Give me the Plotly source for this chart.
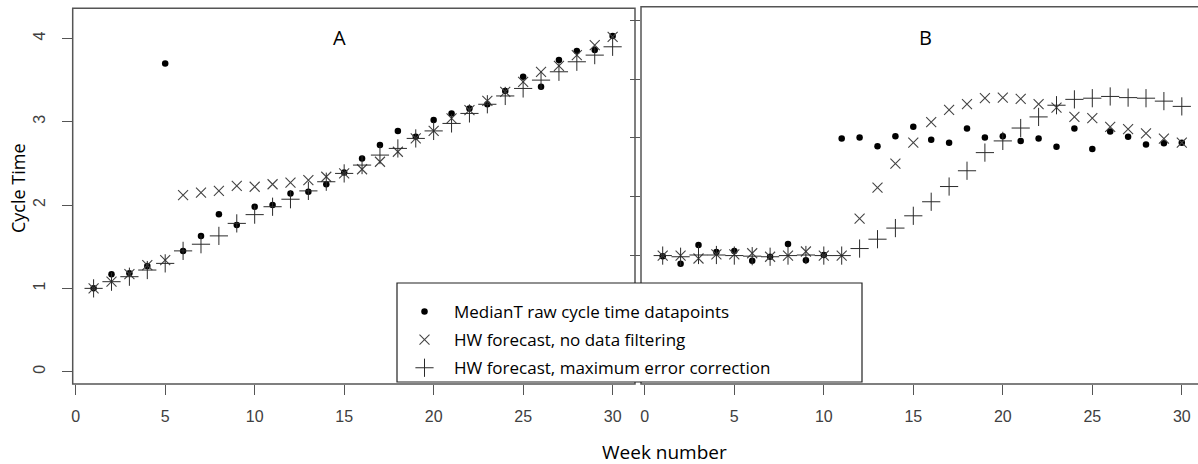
import plotly.graph_objects as go

W, H = 1198, 464

weeks = list(range(1, 31))

# Panel A values
a_median = [1.00, 1.17, 1.18, 1.27, 3.70, 1.45, 1.63, 1.89, 1.76, 1.98,
            2.00, 2.14, 2.16, 2.25, 2.39, 2.56, 2.72, 2.89, 2.82, 3.02,
            3.10, 3.16, 3.21, 3.37, 3.54, 3.42, 3.74, 3.85, 3.86, 4.03]
a_hw_nofilter = [1.00, 1.08, 1.17, 1.28, 1.34, 2.12, 2.15, 2.17, 2.23, 2.22,
                 2.25, 2.27, 2.30, 2.34, 2.38, 2.43, 2.52, 2.64, 2.80, 2.89,
                 3.04, 3.14, 3.25, 3.36, 3.48, 3.60, 3.67, 3.80, 3.92, 4.02]
a_hw_maxerr = [1.00, 1.08, 1.14, 1.22, 1.30, 1.45, 1.53, 1.63, 1.78, 1.885,
               1.98, 2.07, 2.17, 2.28, 2.38, 2.48, 2.60, 2.68, 2.80, 2.89,
               2.98, 3.10, 3.21, 3.31, 3.40, 3.50, 3.60, 3.72, 3.80, 3.90]

# Panel B values
b_median = [0.98, 0.85, 1.17, 1.05, 1.07, 0.90, 0.97, 1.19, 0.91, 1.00,
            2.99, 3.01, 2.86, 3.03, 3.19, 2.97, 2.92, 3.16, 3.01, 3.03,
            2.95, 2.99, 2.85, 3.16, 2.81, 3.11, 3.02, 2.89, 2.91, 2.92]
b_hw_nofilter = [0.99, 0.99, 0.94, 1.01, 1.01, 1.03, 0.97, 0.99, 1.06, 0.99,
                 0.99, 1.62, 2.15, 2.56, 2.92, 3.27, 3.48, 3.58, 3.68, 3.69,
                 3.67, 3.58, 3.52, 3.36, 3.34, 3.19, 3.15, 3.08, 2.99, 2.92]
b_hw_maxerr = [0.99, 0.97, 1.00, 1.00, 0.99, 0.98, 0.97, 0.99, 1.00, 0.99,
               0.99, 1.11, 1.27, 1.46, 1.67, 1.91, 2.17, 2.44, 2.75, 2.95,
               3.17, 3.36, 3.56, 3.66, 3.68, 3.71, 3.69, 3.68, 3.63, 3.54]

x_ticks = [0, 5, 10, 15, 20, 25, 30]
a_y_ticks = [0, 1, 2, 3, 4]
b_y_ticks = [1, 2, 3, 4, 5]

series_names = ["MedianT raw cycle time datapoints",
                "HW forecast, no data filtering",
                "HW forecast, maximum error correction"]

def px(x):
    return x / W

def py(y):
    return 1 - y / H

dot_style = dict(symbol="circle", size=6.5, color="black", line=dict(width=0))
x_style = dict(symbol="x-thin-open", size=10, color="#444444", line=dict(width=1.1, color="#444444"))
plus_style = dict(symbol="cross-thin-open", size=13, color="#2a2a2a", line=dict(width=1.0, color="#2a2a2a"))

fig = go.Figure()

panels = [
    ("x", "y", a_median, a_hw_nofilter, a_hw_maxerr, True),
    ("x2", "y2", b_median, b_hw_nofilter, b_hw_maxerr, False),
]
for xa, ya, med, hw, hwm, show in panels:
    for i, (vals, style) in enumerate([(med, dot_style), (hw, x_style), (hwm, plus_style)]):
        fig.add_trace(go.Scatter(
            x=weeks, y=vals, mode="markers", marker=style,
            name=series_names[i], legendgroup="g%d" % i,
            showlegend=show, xaxis=xa, yaxis=ya, cliponaxis=False))

tick_font = dict(family="Liberation Sans, Arial, sans-serif", size=16, color="#404040")
axis_common = dict(showgrid=False, zeroline=False, showline=False,
                   ticks="outside", ticklen=10, tickwidth=1.3, tickcolor="#555555")

A_dom_x = [px(72.7), px(635)]
B_dom_x = [px(641), 1.0]
A_dom_y = [py(384), py(8.3)]
B_dom_y = [py(384), py(6.7)]

fig.update_layout(
    width=W, height=H,
    margin=dict(l=0, r=0, t=0, b=0),
    paper_bgcolor="white", plot_bgcolor="white",
    xaxis=dict(domain=A_dom_x, range=[-0.168, 31.25], tickvals=x_ticks,
               tickfont=tick_font, ticklabelstandoff=8, anchor="y", **axis_common),
    yaxis=dict(domain=A_dom_y, range=[-0.148, 4.362], tickvals=a_y_ticks,
               tickfont=tick_font, tickangle=-90, ticklabelstandoff=10,
               anchor="x", **axis_common),
    xaxis2=dict(domain=B_dom_x, range=[-0.212, 30.905], tickvals=x_ticks,
                tickfont=tick_font, ticklabelstandoff=8, anchor="y2", **axis_common),
    yaxis2=dict(domain=B_dom_y, range=[-1.205, 5.244], tickvals=b_y_ticks,
                showticklabels=False, anchor="x2", **axis_common),
    showlegend=True,
    legend=dict(x=px(395), y=py(294), xanchor="left", yanchor="top",
                bgcolor="rgba(0,0,0,0)", borderwidth=0, tracegroupgap=3,
                itemwidth=49,
                font=dict(family="Open Sans, sans-serif", size=17, color="black")),
)

box_line = dict(color="#555555", width=1.5)
fig.add_shape(type="rect", xref="paper", yref="paper",
              x0=A_dom_x[0], x1=A_dom_x[1], y0=A_dom_y[0], y1=A_dom_y[1], line=box_line)
fig.add_shape(type="rect", xref="paper", yref="paper",
              x0=B_dom_x[0], x1=1.01, y0=B_dom_y[0], y1=B_dom_y[1], line=box_line)
# legend box (opaque, on top of the panel borders)
fig.add_shape(type="rect", xref="paper", yref="paper",
              x0=px(397), x1=px(862), y0=py(382), y1=py(283),
              line=dict(color="#222222", width=1.2), fillcolor="white", layer="above")

ann_font = dict(family="Open Sans, sans-serif", size=20, color="black")
fig.add_annotation(x=px(340), y=py(38), xref="paper", yref="paper", text="A",
                   showarrow=False, font=ann_font, xanchor="center", yanchor="middle")
fig.add_annotation(x=px(925), y=py(38), xref="paper", yref="paper", text="B",
                   showarrow=False, font=ann_font, xanchor="center", yanchor="middle")
fig.add_annotation(x=px(18), y=py(188), xref="paper", yref="paper", text="Cycle Time",
                   textangle=-90, showarrow=False,
                   font=dict(family="Open Sans, sans-serif", size=18, color="black"),
                   xanchor="center", yanchor="middle")
fig.add_annotation(x=px(664), y=py(452), xref="paper", yref="paper", text="Week number",
                   showarrow=False,
                   font=dict(family="Open Sans, sans-serif", size=19, color="black"),
                   xanchor="center", yanchor="middle")

fig.write_html("out.html", config={"displayModeBar": False},
               post_script="document.body.style.margin='0';document.body.style.overflow='hidden';")
